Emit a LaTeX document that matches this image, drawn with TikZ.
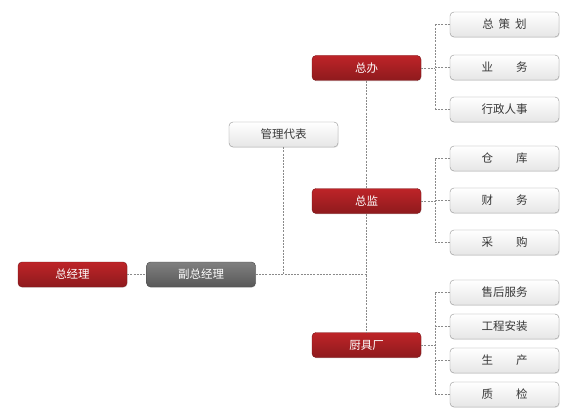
\documentclass[tikz,border=0pt]{standalone}
\usepackage{fontspec}
\newfontfamily\cjk{Noto Sans CJK SC}
\usetikzlibrary{shadows}

\definecolor{redtop}{HTML}{BE2428}
\definecolor{redbot}{HTML}{8E1A1D}
\definecolor{redline}{HTML}{7A1518}
\definecolor{graytop}{HTML}{808080}
\definecolor{graybot}{HTML}{585858}
\definecolor{linkgray}{HTML}{8A8A8A}
\definecolor{lighttext}{HTML}{383838}

\tikzset{
	box/.style={rounded corners=4pt, minimum width=109pt, minimum height=25pt,
		inner sep=0pt, font=\cjk\fontsize{11.5}{12}\selectfont,
		drop shadow={opacity=.18, shadow xshift=.6pt, shadow yshift=-.8pt}},
	redbox/.style={box, draw=redline, top color=redtop, bottom color=redbot, text=white},
	graybox/.style={box, draw=graybot!80!black, top color=graytop, bottom color=graybot, text=white},
	lightbox/.style={box, draw=gray!85, top color=white, bottom color=gray!20, text=lighttext},
	link/.style={draw=linkgray, line width=.6pt, dash pattern=on 2pt off 1.2pt},
}

\begin{document}
\begin{tikzpicture}[x=1pt, y=-1pt]
	\useasboundingbox (0,0) rectangle (563,412);
	% main line
	\node[redbox] (zjl) at (72.5,274.5) {总经理};
	\node[graybox] (fzjl) at (201,274.5) {副总经理};
	\node[lightbox] (gldb) at (283.5,134.5) {管理代表};
	\node[redbox] (zb) at (366.5,68) {总办};
	\node[redbox] (zj) at (366.5,201) {总监};
	\node[redbox] (cjc) at (366.5,345) {厨具厂};
	% departments
	\foreach \name/\y/\txt in {
		zb1/24.5/{总\hspace{5pt}策\hspace{5pt}划},
		zb2/67.5/{业\hspace{23pt}务},
		zb3/109.5/{行政人事},
		zj1/158.5/{仓\hspace{23pt}库},
		zj2/200.5/{财\hspace{23pt}务},
		zj3/242.5/{采\hspace{23pt}购},
		cjc1/292.5/{售后服务},
		cjc2/326.5/{工程安装},
		cjc3/360.5/{生\hspace{23pt}产},
		cjc4/394.5/{质\hspace{23pt}检}}
		\node[lightbox] (\name) at (504.5,\y) {\txt};
	% links
	\draw[link] (zjl) -- (fzjl);
	\draw[link] (fzjl.east) -- (fzjl.east -| zj.south);
	\draw[link] (gldb.south) -- (gldb.south |- fzjl.east);
	\draw[link] (zb.south) -- (zj.north);
	\draw[link] (zj.south) -- (cjc.north);
	\coordinate (zbj) at (435,68);
	\coordinate (zjj) at (435,201);
	\coordinate (cjcj) at (435,345);
	\draw[link] (zb.east) -- (zbj);
	\draw[link] (zbj |- zb1.west) -- (zbj |- zb3.west);
	\foreach \n in {zb1,zb2,zb3}
		\draw[link] (zbj |- \n.west) -- (\n.west);
	\draw[link] (zj.east) -- (zjj);
	\draw[link] (zjj |- zj1.west) -- (zjj |- zj3.west);
	\foreach \n in {zj1,zj2,zj3}
		\draw[link] (zjj |- \n.west) -- (\n.west);
	\draw[link] (cjc.east) -- (cjcj);
	\draw[link] (cjcj |- cjc1.west) -- (cjcj |- cjc4.west);
	\foreach \n in {cjc1,cjc2,cjc3,cjc4}
		\draw[link] (cjcj |- \n.west) -- (\n.west);
\end{tikzpicture}
\end{document}
